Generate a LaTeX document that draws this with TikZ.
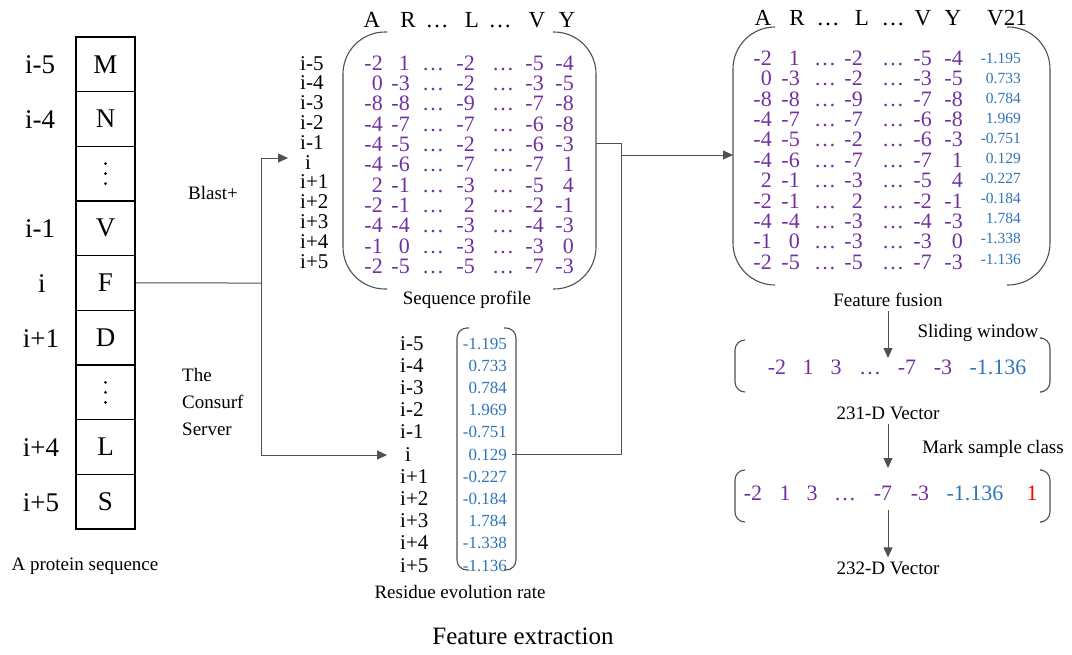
\documentclass[tikz,border=0pt]{standalone}
\usepackage{fontspec}
\setmainfont{Liberation Serif}
\usetikzlibrary{arrows.meta}
\definecolor{profpurple}{HTML}{7030A0}
\definecolor{rateblue}{HTML}{2E75B6}
\definecolor{linegray}{HTML}{505050}
\newcommand{\fsz}[1]{\fontsize{#1}{#1}\selectfont}
% profile rows: A/R/L/V/Y/evolution rate
\newcommand{\rowdata}{-2/1/-2/-5/-4/-1.195, 0/-3/-2/-3/-5/0.733, -8/-8/-9/-7/-8/0.784, -4/-7/-7/-6/-8/1.969, -4/-5/-2/-6/-3/-0.751, -4/-6/-7/-7/1/0.129, 2/-1/-3/-5/4/-0.227, -2/-1/2/-2/-1/-0.184, -4/-4/-3/-4/-3/1.784, -1/0/-3/-3/0/-1.338, -2/-5/-5/-7/-3/-1.136}
\begin{document}
\begin{tikzpicture}[x=1pt,y=-1pt,
  seqbox/.style={draw,line width=1.1pt,minimum width=59pt,minimum height=54.7pt,inner sep=0pt,font=\fsz{27}},
  poslab/.style={font=\fsz{27},anchor=base,inner sep=0pt},
  rowlab/.style={font=\fsz{21},anchor=base west,inner sep=0pt},
  pval/.style={text=profpurple,font=\fsz{22},anchor=base east,inner sep=0pt},
  pdot/.style={text=profpurple,font=\fsz{22},anchor=base,inner sep=0pt},
  vval/.style={text=profpurple,font=\fsz{22},anchor=base,inner sep=0pt},
  rval/.style={text=rateblue,font=\fsz{17},anchor=base east,inner sep=0pt},
  fval/.style={text=rateblue,font=\fsz{15.5},anchor=base east,inner sep=0pt},
  head/.style={font=\fsz{23},anchor=base,inner sep=0pt},
  caption/.style={font=\fsz{19},inner sep=4pt},
  parline/.style={draw=linegray,line width=1.1pt,rounded corners=#1},
  link/.style={draw=linegray,line width=1pt},
  tip/.style={-{Triangle[length=10pt,width=9pt]}}
]
\useasboundingbox (0,0) rectangle (1072,654);

%protein sequence
\foreach \res [count=\k from 0] in {M,N,{},V,F,D,{},L,S}
  \node[seqbox] (s\k) at (105.5,64.3+54.67*\k) {\res};
\foreach \b in {s2,s6}
  \foreach \d in {-10,0,10}
    \fill ([yshift=\d pt]\b.center) circle (1.5);
\node[poslab] (p0) at (40,73) {i-5};
\node[poslab] (p1) at (40,128) {i-4};
\node[poslab] (p3) at (40,237) {i-1};
\node[poslab] (p4) at (42,292) {i};
\node[poslab] (p5) at (41,347) {i+1};
\node[poslab] (p7) at (41,456) {i+4};
\node[poslab] (p8) at (41,511) {i+5};
\node[caption] (seqcap) at (85,566) {A protein sequence};

%tools
\node[caption] (blast) at (213,193) {Blast+};
\node[caption,anchor=west,align=left,font=\fontsize{19}{27}\selectfont] (consurf) at (178,402) {The\\Consurf\\Server};

%sequence profile
\foreach \h/\hx [count=\k] in {A/372,R/408,…/437,L/472,…/500,V/537,Y/567}
  \node[head] (ph\k) at (\hx,27.5) {\h};
\foreach \lab [count=\k from 0] in {i-5,i-4,i-3,i-2,i-1,{\hspace{5pt}i},i+1,i+2,i+3,i+4,i+5}
  \node[rowlab] (pl\k) at (300,70+19.8*\k) {\lab};
\foreach \a/\r/\l/\v/\y/\e [count=\k from 0] in \rowdata {
  \node[pval] (pa\k) at (383,70.3+20.3*\k) {\a};
  \node[pval] (pr\k) at (410,70.3+20.3*\k) {\r};
  \node[pdot] (pd\k) at (433,70.3+20.3*\k) {…};
  \node[pval] (pm\k) at (475,70.3+20.3*\k) {\l};
  \node[pdot] (pe\k) at (503,70.3+20.3*\k) {…};
  \node[pval] (pv\k) at (544,70.3+20.3*\k) {\v};
  \node[pval] (py\k) at (574,70.3+20.3*\k) {\y};
}
\draw[parline=42] (387,32) -- (343,32) -- (343,289) -- (387,289);
\draw[parline=42] (553,32) -- (596,32) -- (596,289) -- (553,289);
\node[caption] (profcap) at (467,300) {Sequence profile};

%residue evolution rate
\foreach \lab [count=\k from 0] in {i-5,i-4,i-3,i-2,i-1,{\hspace{5pt}i},i+1,i+2,i+3,i+4,i+5}
  \node[rowlab] (rl\k) at (400,350+22.2*\k) {\lab};
\foreach \a/\r/\l/\v/\y/\e [count=\k from 0] in \rowdata
  \node[rval] (r\k) at (507,349+22.2*\k) {\e};
\draw[parline=10] (469,328) -- (457,328) -- (457,570) -- (469,570);
\draw[parline=10] (504,328) -- (516,328) -- (516,570) -- (504,570);
\node[caption] (ratecap) at (460,592) {Residue evolution rate};

%feature fusion
\foreach \h/\hx [count=\k] in {A/763,R/797,…/828,L/862,…/893,V/923,Y/953,V21/1007}
  \node[head] (fh\k) at (\hx,25) {\h};
\foreach \a/\r/\l/\v/\y/\e [count=\k from 0] in \rowdata {
  \node[pval] (fa\k) at (772,65.3+20.4*\k) {\a};
  \node[pval] (fr\k) at (800,65.3+20.4*\k) {\r};
  \node[pdot] (fd\k) at (825,65.3+20.4*\k) {…};
  \node[pval] (fm\k) at (863,65.3+20.4*\k) {\l};
  \node[pdot] (fe\k) at (893,65.3+20.4*\k) {…};
  \node[pval] (fv\k) at (932,65.3+20.4*\k) {\v};
  \node[pval] (fy\k) at (963,65.3+20.4*\k) {\y};
  \node[fval] (fz\k) at (1021,63+20.1*\k) {\e};
}
\draw[parline=42] (775,27) -- (733,27) -- (733,285) -- (775,285);
\draw[parline=42] (1007,27) -- (1050,27) -- (1050,285) -- (1007,285);
\node[caption] (fusecap) at (888,300) {Feature fusion};

%231-D vector
\foreach \e/\ex [count=\k] in {-2/777,1/808,3/836,…/870,-7/907,-3/943}
  \node[vval] (va\k) at (\ex,374) {\e};
\node[vval,text=rateblue] (va7) at (998,374) {-1.136};
\draw[parline=10] (745,340) -- (735,340) -- (735,392) -- (745,392);
\draw[parline=10] (1042,338) -- (1050,338) -- (1050,392) -- (1042,392);
\node[caption] (slide) at (978,333) {Sliding window};
\node[caption] (v1cap) at (888,413) {231-D Vector};

%232-D vector
\foreach \e/\ex [count=\k] in {-2/753,1/785,3/812,…/845,-7/883,-3/920}
  \node[vval] (vb\k) at (\ex,500) {\e};
\node[vval,text=rateblue] (vb7) at (975,500) {-1.136};
\node[vval,text=red] (vb8) at (1032,500) {1};
\draw[parline=10] (745,470) -- (735,470) -- (735,522) -- (745,522);
\draw[parline=10] (1042,470) -- (1050,470) -- (1050,522) -- (1042,522);
\node[caption] (mark) at (993,449) {Mark sample class};
\node[caption] (v2cap) at (888,568) {232-D Vector};

\node[font=\fsz{25},inner sep=0pt] (title) at (523,636) {Feature extraction};

%connectors
\coordinate (fork) at (261,283);
\coordinate (toprof) at (288,158);
\coordinate (torate) at (387,455);
\coordinate (profout) at (596,143);
\coordinate (jt) at (621,143);
\coordinate (jb) at (621,155);
\coordinate (tofuse) at (733,155);
\coordinate (tov1) at (888,358);
\coordinate (tov2) at (888,468);
\coordinate (v2out) at (888,510);
\draw[link] (s4.east) -- (fork);
\draw[link,tip] (fork) |- (toprof);
\draw[link,tip] (fork) |- (torate);
\draw[link] (profout) -- (jt) -- (jb);
\draw[link,tip] (jb) -- (tofuse);
\draw[link] ([xshift=5pt]r5.east) -| (jb);
\draw[link,tip] (fusecap.south) -- (tov1);
\draw[link,tip] (v1cap.south) -- (tov2);
\draw[link,tip] (v2out) -- (v2cap.north);
\end{tikzpicture}
\end{document}
